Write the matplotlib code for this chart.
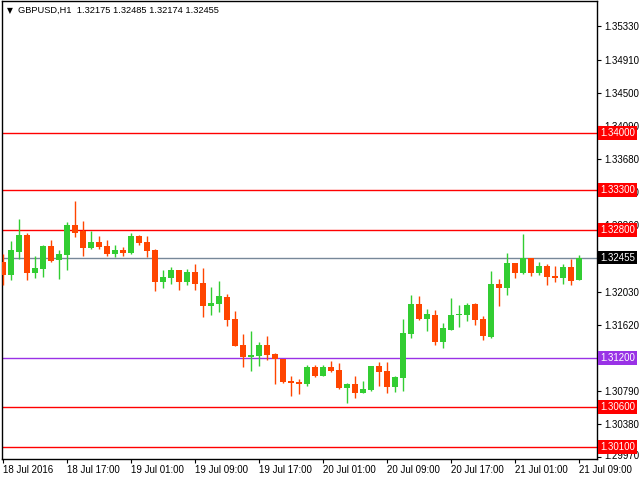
import matplotlib
matplotlib.use("Agg")
import matplotlib.pyplot as plt
import matplotlib.transforms as mtransforms

# GBPUSD H1 candles, 18 Jul 09:00 .. 21 Jul 09:00
opens = [1.32403, 1.32238, 1.32528, 1.32735, 1.32266, 1.32312, 1.32598, 1.32424, 1.32486, 1.32860,
         1.32785, 1.32570, 1.32648, 1.32598, 1.32499, 1.32549, 1.32515, 1.32723, 1.32648, 1.32549,
         1.32154, 1.32204, 1.32300, 1.32154, 1.32275, 1.32138, 1.31856, 1.31881, 1.31964, 1.31690,
         1.31367, 1.31222, 1.31234, 1.31367, 1.31255, 1.31197, 1.30919, 1.30907, 1.30886, 1.31093,
         1.30985, 1.31093, 1.31056, 1.30836, 1.30882, 1.30774, 1.30811, 1.31106, 1.31044, 1.30848,
         1.30960, 1.31508, 1.31877, 1.31690, 1.31740, 1.31408, 1.31557, 1.31740, 1.31740, 1.31877,
         1.31690, 1.31470, 1.32126, 1.32076, 1.32387, 1.32259, 1.32453, 1.32259, 1.32350, 1.32225,
         1.32204, 1.32337, 1.32175]
highs = [1.32499, 1.32661, 1.32934, 1.32764, 1.32474, 1.32611, 1.32673, 1.32549, 1.32897, 1.33158,
         1.32909, 1.32785, 1.32723, 1.32673, 1.32611, 1.32586, 1.32764, 1.32735, 1.32723, 1.32561,
         1.32300, 1.32337, 1.32300, 1.32312, 1.32375, 1.32325, 1.32092, 1.32163, 1.32001, 1.31790,
         1.31504, 1.31541, 1.31404, 1.31479, 1.31268, 1.31197, 1.30985, 1.30948, 1.31122, 1.31122,
         1.31122, 1.31168, 1.31143, 1.30894, 1.30981, 1.30919, 1.31110, 1.31156, 1.31156, 1.30981,
         1.31690, 1.31989, 1.31977, 1.31815, 1.31802, 1.31641, 1.31952, 1.31865, 1.31889, 1.31889,
         1.31728, 1.32287, 1.32188, 1.32511, 1.32387, 1.32748, 1.32453, 1.32399, 1.32375, 1.32350,
         1.32375, 1.32437, 1.32485]
lows = [1.32113, 1.32176, 1.32437, 1.32176, 1.32204, 1.32217, 1.32403, 1.32188, 1.32300, 1.32714,
        1.32478, 1.32561, 1.32561, 1.32478, 1.32465, 1.32478, 1.32499, 1.32611, 1.32465, 1.32042,
        1.32080, 1.32130, 1.32051, 1.32117, 1.32051, 1.31719, 1.31744, 1.31781, 1.31607, 1.31350,
        1.31097, 1.31047, 1.31110, 1.31184, 1.30886, 1.30898, 1.30736, 1.30761, 1.30861, 1.30973,
        1.30980, 1.31035, 1.30824, 1.30649, 1.30712, 1.30770, 1.30799, 1.30861, 1.30774, 1.30786,
        1.30799, 1.31458, 1.31678, 1.31541, 1.31371, 1.31333, 1.31550, 1.31591, 1.31666, 1.31616,
        1.31433, 1.31454, 1.31852, 1.31989, 1.32204, 1.32250, 1.32229, 1.32241, 1.32117, 1.32154,
        1.32130, 1.32117, 1.32174]
closes = [1.32238, 1.32549, 1.32735, 1.32266, 1.32321, 1.32598, 1.32416, 1.32499, 1.32860, 1.32764,
          1.32577, 1.32648, 1.32590, 1.32499, 1.32549, 1.32515, 1.32723, 1.32639, 1.32540, 1.32154,
          1.32209, 1.32300, 1.32154, 1.32275, 1.32130, 1.31852, 1.31889, 1.31977, 1.31682, 1.31358,
          1.31222, 1.31243, 1.31367, 1.31246, 1.31189, 1.30911, 1.30898, 1.30886, 1.31093, 1.30985,
          1.31093, 1.31047, 1.30836, 1.30882, 1.30774, 1.30820, 1.31106, 1.31035, 1.30848, 1.30969,
          1.31516, 1.31877, 1.31690, 1.31753, 1.31408, 1.31579, 1.31740, 1.31753, 1.31865, 1.31678,
          1.31479, 1.32126, 1.32076, 1.32387, 1.32266, 1.32453, 1.32259, 1.32350, 1.32217, 1.32204,
          1.32337, 1.32163, 1.32455]

# horizontal levels
levels = [1.34000, 1.33300, 1.32800, 1.32455, 1.31200, 1.30600, 1.30100]
level_colors = ['#ff0000', '#ff0000', '#ff0000', '#778899', '#9932e6', '#ff0000', '#ff0000']
level_box = ['#ff0000', '#ff0000', '#ff0000', '#000000', '#9932e6', '#ff0000', '#ff0000']

price_ticks = [1.29970, 1.30380, 1.30790, 1.31200, 1.31620, 1.32030, 1.32450, 1.32860,
               1.33270, 1.33680, 1.34090, 1.34500, 1.34910, 1.35330]
hidden_ticks = [1.31200, 1.32450]  # covered by the level boxes
time_labels = ['18 Jul 2016', '18 Jul 17:00', '19 Jul 01:00', '19 Jul 09:00', '19 Jul 17:00',
               '20 Jul 01:00', '20 Jul 09:00', '20 Jul 17:00', '21 Jul 01:00', '21 Jul 09:00']

up_color = '#32cd32'
down_color = '#ff4500'
fnt = 'Liberation Sans'

fig = plt.figure(figsize=(6.4, 4.8), dpi=100)
ax = fig.add_axes([1.5 / 640, 21 / 480, 595.5 / 640, 458.5 / 480])

n = len(opens)
xs = list(range(n))
cols = [up_color if c >= o else down_color for o, c in zip(opens, closes)]
ax.vlines(xs, lows, highs, colors=cols, linewidth=1.0, zorder=3)
bottoms = [min(o, c) for o, c in zip(opens, closes)]
heights = [max(abs(c - o), 0.00013) for o, c in zip(opens, closes)]
ax.bar(xs, heights, bottom=bottoms, width=0.64, color=cols, linewidth=0, zorder=4)

for lv, lc in zip(levels, level_colors):
    ax.axhline(lv, color=lc, linewidth=1.0, zorder=2)

ax.set_xlim(-0.1875, -0.1875 + 595.5 / 8)
ax.set_ylim(1.29949, 1.35652)

# x axis
ax.set_xticks(xs[::8])
ax.set_xticklabels(time_labels, fontsize=7, family=fnt, ha='left')
ax.tick_params(axis='x', direction='out', length=3, width=0.8, pad=1)

# y axis on the right
ax.yaxis.tick_right()
ax.set_yticks(price_ticks)
ax.set_yticklabels(['' if t in hidden_ticks else '%.5f' % t for t in price_ticks],
                   fontsize=7, family=fnt)
ax.tick_params(axis='y', direction='out', length=3, width=0.8, pad=2)
for lab in ax.get_yticklabels():
    if lab.get_text() == '1.29970':
        lab.set_transform(lab.get_transform() +
                          mtransforms.ScaledTranslation(0, 2 / 100, fig.dpi_scale_trans))

for sp in ax.spines.values():
    sp.set_linewidth(1.0)
    sp.set_color('black')

# level price boxes on the scale
trans = mtransforms.blended_transform_factory(ax.transAxes, ax.transData)
for lv, bc in zip(levels, level_box):
    ax.text(1.0 + 3 / 595, lv, '%.5f' % lv, transform=trans, fontsize=7, family=fnt,
            color='white', ha='left', va='center', clip_on=False, zorder=20,
            bbox=dict(boxstyle='square,pad=0.2', facecolor=bc, edgecolor='none'))

# header text
ax.text(5 / 595, 1 - 10 / 459, '\u25bc', transform=ax.transAxes, fontsize=5.5,
        family='DejaVu Sans', va='center', ha='left', color='black')
ax.text(16 / 595, 1 - 10 / 459, 'GBPUSD,H1  1.32175 1.32485 1.32174 1.32455',
        transform=ax.transAxes, fontsize=6.7, family=fnt, va='center', ha='left', color='black')

plt.savefig('out.png', dpi=100)
